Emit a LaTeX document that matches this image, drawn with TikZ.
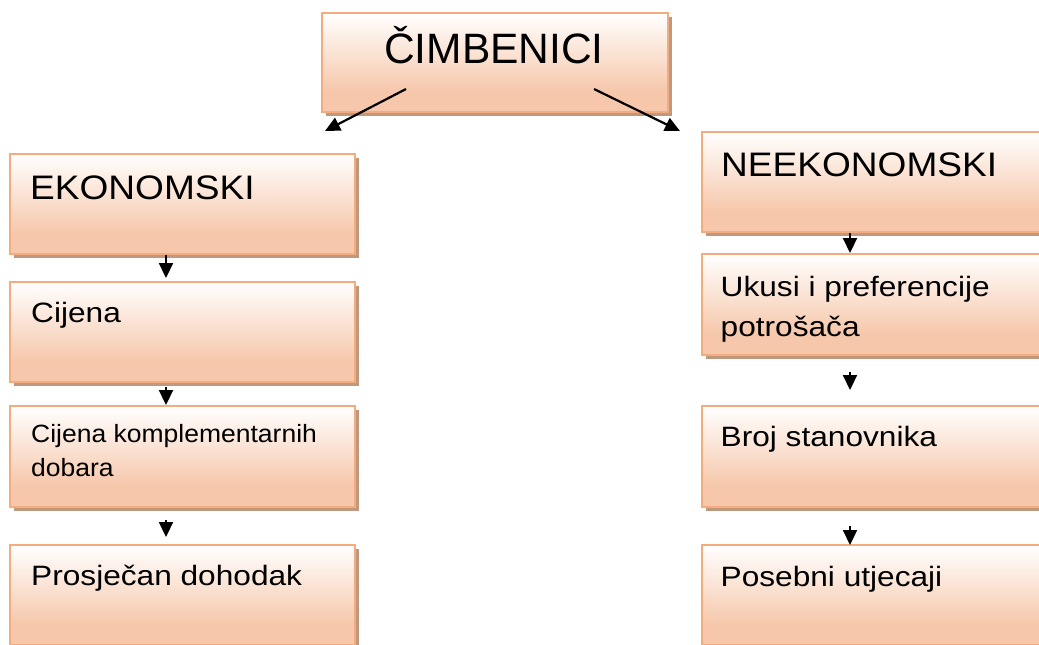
\documentclass[tikz,border=0pt]{standalone}
\usepackage{fontspec}
\setmainfont{Liberation Sans}
\newfontfamily\bigfont[FakeStretch=1.09]{Liberation Sans}
\newfontfamily\midfont[FakeStretch=1.13]{Liberation Sans}
\newfontfamily\smallfont[FakeStretch=1.06]{Liberation Sans}
\usetikzlibrary{shadows,arrows.meta,calc}
\definecolor{peach}{RGB}{246,199,170}
\definecolor{boxline}{RGB}{244,172,126}
\definecolor{shadowc}{RGB}{192,152,126}
\pgfdeclareverticalshading{boxshade}{100bp}{color(0bp)=(peach); color(25bp)=(peach); color(35bp)=(peach); color(75bp)=(white); color(100bp)=(white)}
\begin{document}
\begin{tikzpicture}[x=1pt,y=-1pt,
  box/.style={draw=boxline, line width=1.5pt, shading=boxshade, minimum width=345pt, minimum height=100pt, inner sep=0pt, outer sep=0pt, anchor=north west, drop shadow={shadow xshift=4pt, shadow yshift=-4pt, fill=shadowc, opacity=1}},
  lbl/.style={anchor=base west, inner sep=0pt, align=left},
  big/.style={font=\bigfont\fontsize{34}{43}\selectfont},
  mid/.style={font=\midfont\fontsize{28}{40.7}\selectfont},
  small/.style={font=\smallfont\fontsize{25}{34}\selectfont},
  arr/.style={-{Triangle[length=15pt,width=14pt]}, line width=2.2pt}
]
\useasboundingbox (0,0) rectangle (1039,645);
\clip (0,0) rectangle (1039,645);
% boxes
\node[box, minimum width=346pt, minimum height=99pt] (title) at (322,13) {};
\node[box] (ek) at (10,154) {};
\node[box] (cij) at (10,282) {};
\node[box, minimum height=101pt] (ck) at (10,406) {};
\node[box] (pro) at (10,545) {};
\node[box] (neek) at (702,132) {};
\node[box, minimum height=101pt] (uk) at (702,254) {};
\node[box, minimum height=101pt] (broj) at (702,406) {};
\node[box] (pos) at (702,545) {};
% texts
\node[anchor=base, inner sep=0pt, font=\fontsize{42.5}{50}\selectfont] (tt) at ($(title.north west)+(172,50)$) {ČIMBENICI};
\node[lbl, big] (tek) at ($(ek.north west)+(20,45)$) {EKONOMSKI};
\node[lbl, big] (tneek) at ($(neek.north west)+(19,44.7)$) {NEEKONOMSKI};
\node[lbl, mid] (tcij) at ($(cij.north west)+(21,40.7)$) {Cijena};
\node[lbl, mid] (tuk) at ($(uk.north west)+(18.5,82.7)$) {Ukusi i preferencije\\potrošača};
\node[lbl, small] (tck) at ($(ck.north west)+(21,70.7)$) {Cijena komplementarnih\\dobara};
\node[lbl, mid] (tpro) at ($(pro.north west)+(21,40)$) {Prosječan dohodak};
\node[lbl, mid] (tbroj) at ($(broj.north west)+(18.5,40.7)$) {Broj stanovnika};
\node[lbl, mid] (tpos) at ($(pos.north west)+(18.5,41)$) {Posebni utjecaji};
% arrow axes
\coordinate (lx) at (166,0);
\coordinate (rx) at (850,0);
% vertical arrows
\draw[arr] ($(ek.south -| lx)+(0,1)$) -- ($(cij.north -| lx)+(0,-4)$);
\draw[arr] ($(cij.south -| lx)+(0,5)$) -- ($(ck.north -| lx)+(0,-1)$);
\draw[arr] ($(ck.south -| lx)+(0,13)$) -- ($(pro.north -| lx)+(0,-8)$);
\draw[arr] ($(neek.south -| rx)+(0,1)$) -- ($(uk.north -| rx)+(0,-1)$);
\draw[arr] ($(uk.south -| rx)+(0,17)$) -- ($(broj.north -| rx)+(0,-16)$);
\draw[arr] ($(broj.south -| rx)+(0,19)$) -- ($(pos.north -| rx)+(0,0)$);
% diagonal arrows
\coordinate (dl1) at ($(title.north west)+(84,76)$);
\coordinate (dl2) at ($(title.north west)+(3,118)$);
\coordinate (dr1) at ($(title.north west)+(272,76)$);
\coordinate (dr2) at ($(title.north west)+(358,118)$);
\draw[arr] (dl1) -- (dl2);
\draw[arr] (dr1) -- (dr2);
\end{tikzpicture}
\end{document}
